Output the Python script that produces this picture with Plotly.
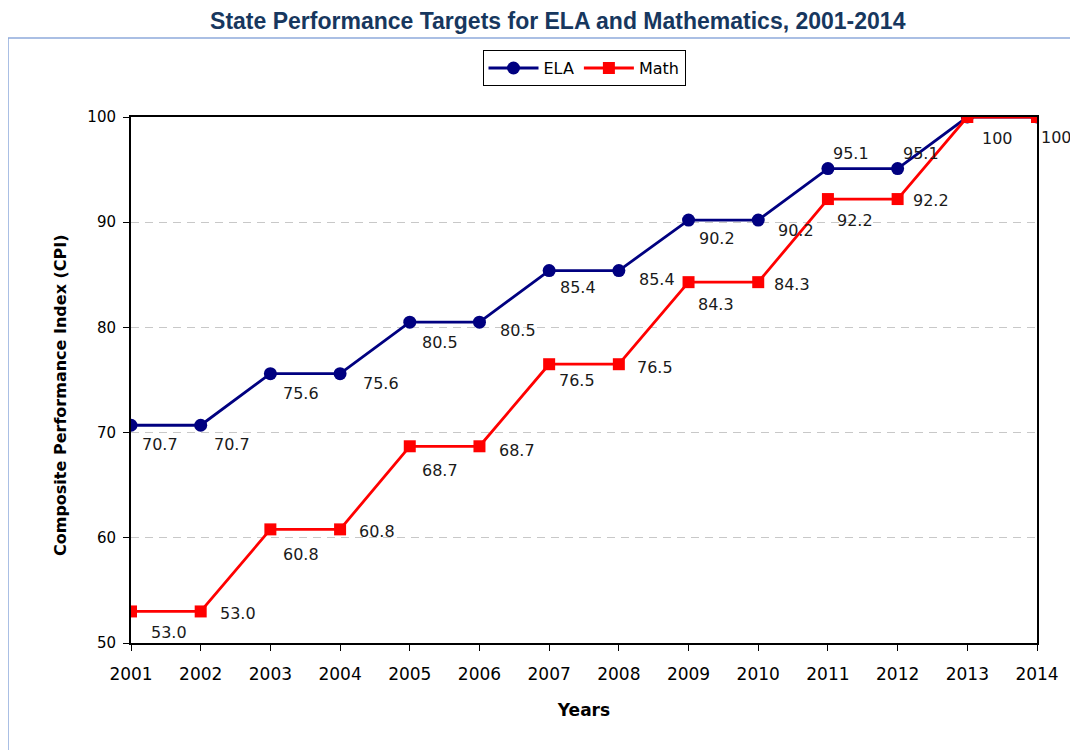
import plotly.graph_objects as go

years = [str(y) for y in range(2001, 2015)]
ela = [70.7, 70.7, 75.6, 75.6, 80.5, 80.5, 85.4, 85.4, 90.2, 90.2, 95.1, 95.1, 100, 100]
math = [53.0, 53.0, 60.8, 60.8, 68.7, 68.7, 76.5, 76.5, 84.3, 84.3, 92.2, 92.2, 100, 100]

# label placement offsets in pixels (dx, dy down-positive); None = no label
ela_off = [(29, 19), (31, 19), (31, 20), (41, 10), (30, 20), (39, 8), (29, 17), (38, 9),
           (28, 18), (38, 10), (23, -15), (23, -15), (30, 21), (19, 20)]
math_off = [(38, 21), (37, 2), (31, 25), (37, 2), (30, 24), (38, 4), (28, 16), (36, 3),
            (27, 22), (34, 2), (27, 21), (33, 1), None, None]

def fmt(v):
    return "100" if v == 100 else f"{v:.1f}"

fig = go.Figure()
fig.add_trace(go.Scatter(x=years, y=ela, mode="lines+markers", name="ELA",
                         line=dict(color="#000080", width=2.8),
                         marker=dict(symbol="circle", size=13, color="#000080")))
fig.add_trace(go.Scatter(x=years, y=math, mode="lines+markers", name="Math",
                         line=dict(color="#FF0000", width=2.8),
                         marker=dict(symbol="square", size=12, color="#FF0000")))

ann = []
for vals, offs in ((ela, ela_off), (math, math_off)):
    for i, (v, o) in enumerate(zip(vals, offs)):
        if o is None:
            continue
        ann.append(dict(x=i, y=v, xref="x", yref="y", text=fmt(v), showarrow=False,
                        xshift=o[0], yshift=-o[1],
                        font=dict(family="DejaVu Sans", size=16, color="#1a1a1a")))

# y-axis title as rotated annotation
ann.append(dict(x=-71 / 906, y=(643 - 395) / 526, xref="paper", yref="paper",
                text="<b>Composite Performance Index (CPI)</b>", textangle=-90,
                showarrow=False, xanchor="center", yanchor="middle",
                font=dict(family="DejaVu Sans", size=16, color="black")))

fig.update_layout(
    width=1078, height=750,
    paper_bgcolor="white", plot_bgcolor="white",
    margin=dict(l=123, r=49, t=109, b=115),
    title=dict(text="<b>State Performance Targets for ELA and Mathematics, 2001-2014</b>",
               x=0.51, xref="container", xanchor="center",
               y=0.9827, yanchor="middle",
               font=dict(family="Liberation Sans", size=23, color="#17375E")),
    legend=dict(orientation="h", x=0.5, xanchor="center", y=1.093, yanchor="middle",
                bordercolor="black", borderwidth=1, bgcolor="white",
                font=dict(family="DejaVu Sans", size=16, color="black"),
                itemwidth=50, tracegroupgap=0),
    annotations=ann,
    showlegend=True,
)
fig.update_xaxes(type="category", range=[0, 13], showgrid=False,
                 showline=True, linecolor="black", linewidth=2, mirror=True,
                 ticks="outside", ticklen=6, tickcolor="black", tickwidth=1,
                 ticklabelstandoff=9,
                 tickfont=dict(family="DejaVu Sans", size=17, color="black"),
                 title=dict(text="<b>Years</b>", standoff=21,
                            font=dict(family="DejaVu Sans", size=17, color="black")))
fig.update_yaxes(range=[50, 100], dtick=10, showgrid=True, gridcolor="#C8C8C8",
                 griddash="8px,6px", gridwidth=1, zeroline=False,
                 showline=True, linecolor="black", linewidth=2, mirror=True,
                 ticks="outside", ticklen=6, tickcolor="black", tickwidth=1,
                 ticklabelstandoff=4,
                 tickfont=dict(family="DejaVu Sans", size=15, color="black"))

# outer chart frame
fig.add_shape(type="rect", xref="paper", yref="paper",
              x0=-123 / 906, x1=1.2, y0=-0.3, y1=(635 - 30) / 526,
              line=dict(color="#8FAADC", width=1.5), layer="below")

fig.write_html("out.html")
